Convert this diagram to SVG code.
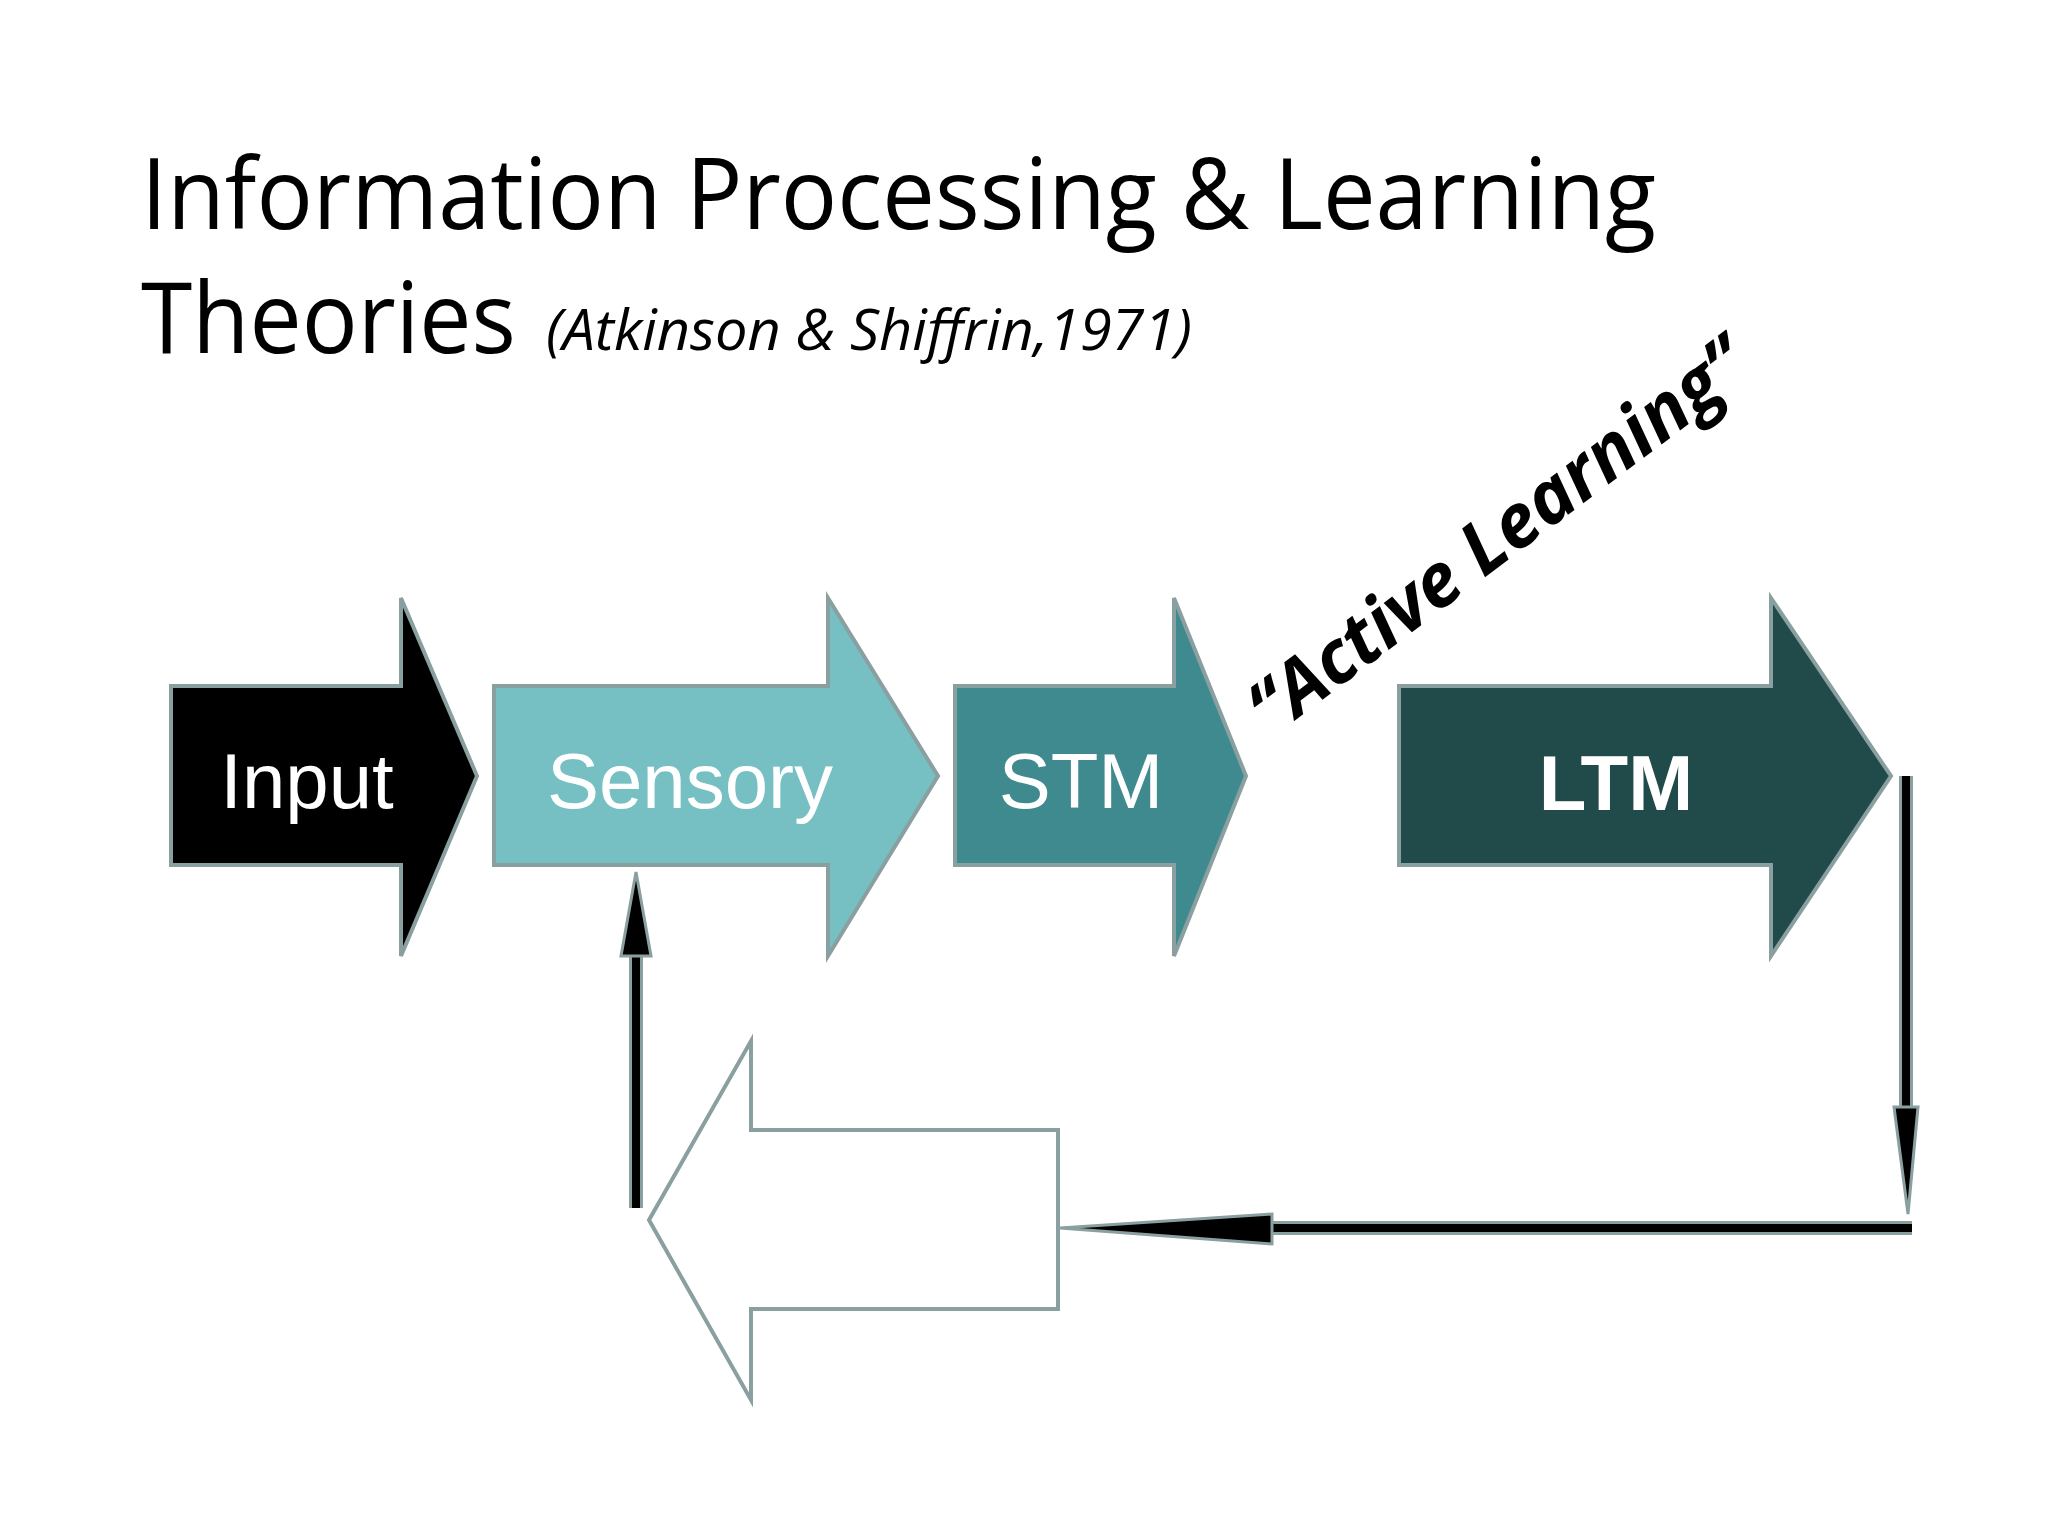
<svg xmlns="http://www.w3.org/2000/svg" width="2048" height="1536" viewBox="0 0 2048 1536">
<style>
.t{font-family:"Open Sans","Liberation Sans",sans-serif;fill:#000}
.ar{stroke:#8a9f9f;stroke-width:4;stroke-linejoin:miter}
.lbl{font-family:"Liberation Sans",Arial,sans-serif;fill:#fff;text-anchor:middle;font-size:78px}
.out{stroke:#8a9f9f;stroke-width:14;fill:none}
.in{stroke:#000;stroke-width:8;fill:none}
.hd{fill:#000;stroke:#8a9f9f;stroke-width:3}
</style>
<rect width="2048" height="1536" fill="#fff"/>
<text class="t" x="141" y="229" font-size="98" textLength="1515" lengthAdjust="spacingAndGlyphs">Information Processing &amp; Learning</text>
<text class="t" x="141" y="353" font-size="98" textLength="375" lengthAdjust="spacingAndGlyphs">Theories</text>
<text class="t" x="546" y="350" font-size="56" font-style="italic" textLength="646" lengthAdjust="spacingAndGlyphs">(Atkinson &amp; Shiffrin,1971)</text>
<g id="input"><polygon class="ar" fill="#000" points="171,686 401,686 401,598 477,776 401,956 401,865 171,865"/><text class="lbl" x="307" y="808">Input</text></g>
<g id="sensory"><polygon class="ar" fill="#76bfc3" points="494,686 828,686 828,598 938,776 828,956 828,865 494,865"/><text class="lbl" x="690" y="808">Sensory</text></g>
<g id="stm"><polygon class="ar" fill="#3f8a8f" points="955,686 1174,686 1174,598 1246,776 1174,956 1174,865 955,865"/><text class="lbl" x="1081" y="808">STM</text></g>
<g id="ltm"><polygon class="ar" fill="#214a4a" points="1399,686 1771,686 1771,598 1891,776 1771,956 1771,865 1399,865"/><text class="lbl" x="1616" y="810" font-weight="bold" font-size="86">LTM</text></g>
<g id="active"><text x="1502" y="560" transform="rotate(-37 1502 542)" font-family="'Open Sans','Liberation Sans',sans-serif" font-weight="bold" font-style="italic" font-size="74" text-anchor="middle">“Active Learning”</text></g>
<g id="feedback"><polygon class="ar" fill="#fff" points="1058,1130 751,1130 751,1041 649,1220 751,1400 751,1309 1058,1309"/></g>
<g id="connectors">
<path class="out" d="M1906,776 V1110"/><path class="in" d="M1906,776 V1110"/>
<polygon class="hd" points="1894,1107 1918,1107 1908,1214"/>
<path class="out" d="M1912,1228 H1265"/><path class="in" d="M1912,1228 H1265"/>
<polygon class="hd" points="1272,1214 1272,1244 1060,1228"/>
<path class="out" d="M636,1208 V950"/><path class="in" d="M636,1208 V950"/>
<polygon class="hd" points="621,956 651,956 636,872"/>
</g>
</svg>
